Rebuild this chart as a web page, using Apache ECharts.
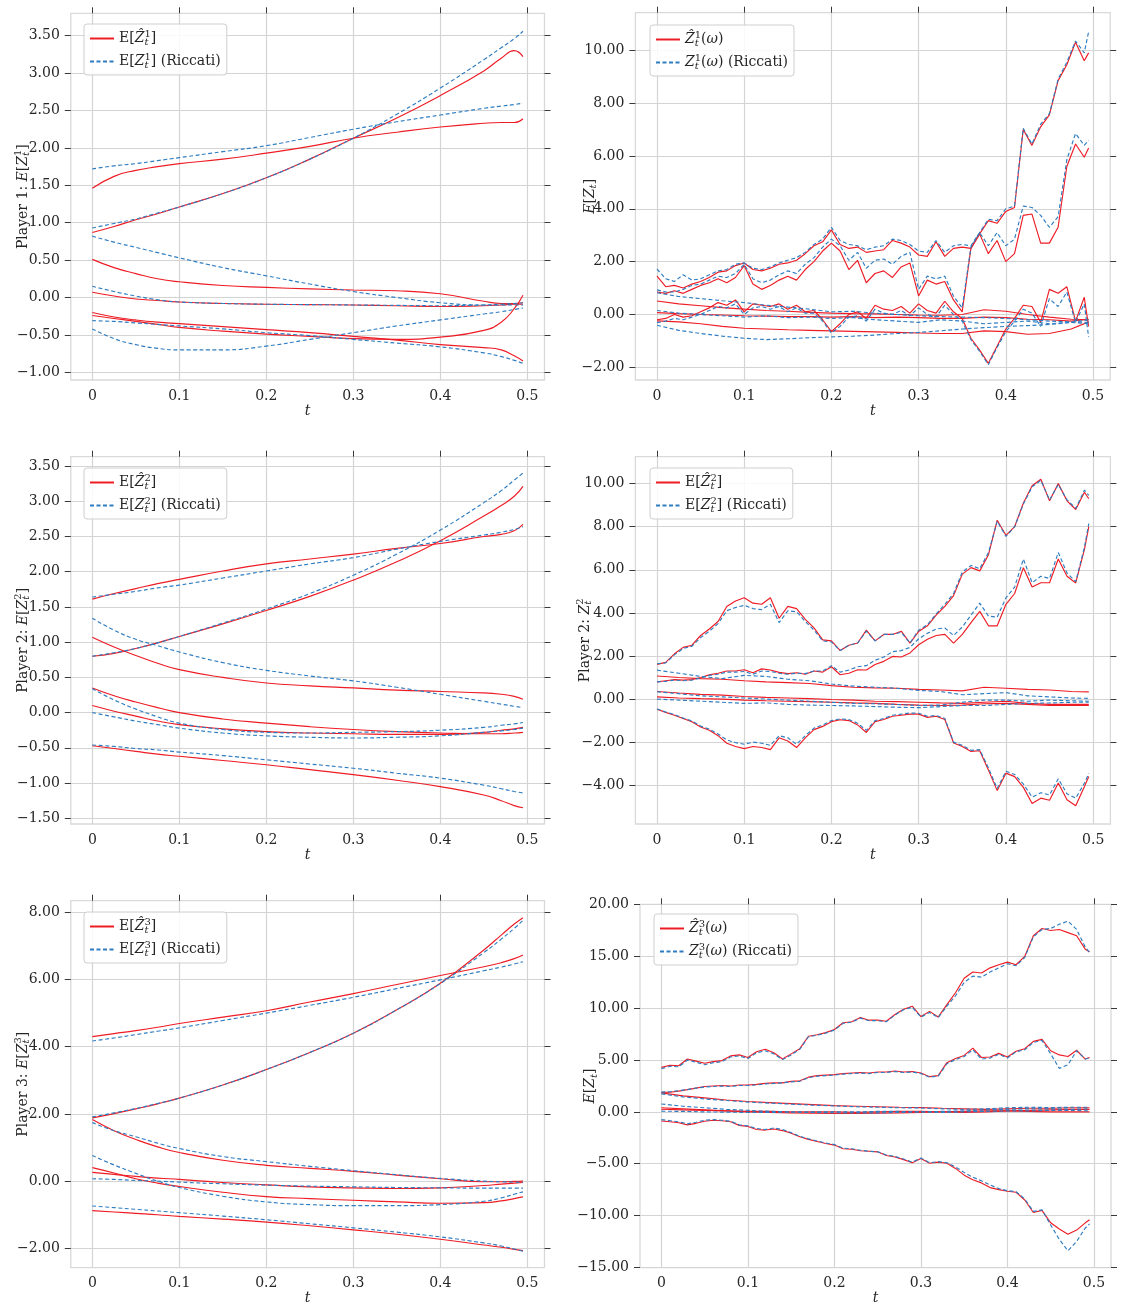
<!DOCTYPE html>
<html>
<head>
<meta charset="utf-8">
<script src="https://cdn.jsdelivr.net/npm/echarts@6/dist/echarts.min.js"></script>
<style>
  html, body { margin: 0; padding: 0; background: #ffffff; }
  #chart { width: 1121px; height: 1309px; }
</style>
</head>
<body>
<div id="chart"></div>
<script>
// ---------------------------------------------------------------------------
// Time grids
// ---------------------------------------------------------------------------
const T_MEAN = [0, 0.025, 0.05, 0.075, 0.1, 0.15, 0.2, 0.25, 0.3, 0.35, 0.4, 0.45, 0.47, 0.485, 0.495];
const T_PATH = [0, 0.01, 0.02, 0.03, 0.04, 0.05, 0.06, 0.07, 0.08, 0.09,
                0.1, 0.11, 0.12, 0.13, 0.14, 0.15, 0.16, 0.17, 0.18, 0.19,
                0.2, 0.21, 0.22, 0.23, 0.24, 0.25, 0.26, 0.27, 0.28, 0.29,
                0.3, 0.31, 0.32, 0.33, 0.34, 0.35, 0.36, 0.37, 0.38, 0.39,
                0.4, 0.41, 0.42, 0.43, 0.44, 0.45, 0.46, 0.47, 0.48, 0.49, 0.495];
const T_SLOW = [0, 0.025, 0.05, 0.075, 0.1, 0.125, 0.15, 0.175, 0.2, 0.225, 0.25,
                0.275, 0.3, 0.325, 0.35, 0.375, 0.4, 0.425, 0.45, 0.475, 0.495];

// Axis ticks
const X_TICKS = [0, 0.1, 0.2, 0.3, 0.4, 0.5];
const Y_TICKS_P1_MEAN = [-1, -0.5, 0, 0.5, 1, 1.5, 2, 2.5, 3, 3.5];
const Y_TICKS_P1_PATH = [-2, 0, 2, 4, 6, 8, 10];
const Y_TICKS_P2_MEAN = [-1.5, -1, -0.5, 0, 0.5, 1, 1.5, 2, 2.5, 3, 3.5];
const Y_TICKS_P2_PATH = [-4, -2, 0, 2, 4, 6, 8, 10];
const Y_TICKS_P3_MEAN = [-2, 0, 2, 4, 6, 8];
const Y_TICKS_P3_PATH = [-15, -10, -5, 0, 5, 10, 15, 20];

// ---------------------------------------------------------------------------
// Player 1 - expected values (six components), learned vs Riccati
// ---------------------------------------------------------------------------
const meanP1Hat = [
  [1.46, 1.62, 1.70, 1.75, 1.79, 1.85, 1.93, 2.02, 2.13, 2.21, 2.28, 2.33, 2.34, 2.34, 2.39],
  [0.87, 0.95, 1.04, 1.12, 1.21, 1.39, 1.60, 1.85, 2.13, 2.40, 2.70, 3.03, 3.20, 3.30, 3.22],
  [0.51, 0.40, 0.32, 0.25, 0.21, 0.16, 0.135, 0.115, 0.10, 0.09, 0.05, -0.05, -0.08, -0.08, -0.07],
  [0.07, 0.02, -0.02, -0.04, -0.06, -0.08, -0.09, -0.095, -0.10, -0.11, -0.12, -0.11, -0.10, -0.09, -0.09],
  [-0.24, -0.28, -0.32, -0.36, -0.40, -0.45, -0.49, -0.52, -0.55, -0.56, -0.53, -0.44, -0.33, -0.15, 0.03],
  [-0.20, -0.26, -0.30, -0.33, -0.35, -0.39, -0.43, -0.47, -0.52, -0.57, -0.63, -0.67, -0.70, -0.78, -0.85]
];
const meanP1Ric = [
  [1.72, 1.76, 1.79, 1.83, 1.87, 1.95, 2.03, 2.14, 2.25, 2.35, 2.44, 2.53, 2.56, 2.58, 2.60],
  [0.93, 0.99, 1.05, 1.13, 1.21, 1.39, 1.60, 1.85, 2.13, 2.45, 2.80, 3.18, 3.34, 3.46, 3.56],
  [0.82, 0.74, 0.67, 0.60, 0.53, 0.40, 0.29, 0.18, 0.08, 0.00, -0.07, -0.10, -0.10, -0.10, -0.10],
  [0.15, 0.08, 0.02, -0.03, -0.06, -0.08, -0.09, -0.095, -0.10, -0.105, -0.11, -0.10, -0.09, -0.08, -0.07],
  [-0.42, -0.55, -0.63, -0.68, -0.70, -0.70, -0.65, -0.56, -0.47, -0.38, -0.30, -0.22, -0.19, -0.16, -0.14],
  [-0.31, -0.32, -0.34, -0.36, -0.38, -0.42, -0.47, -0.51, -0.56, -0.61, -0.66, -0.74, -0.79, -0.84, -0.88]
];

// Player 1 - one sample path
const pathP1HatA = [1.45,1.05,1.10,1.00,1.15,1.25,1.40,1.60,1.65,1.85, 1.95,1.70,1.65,1.75,1.90,1.95,2.05,2.30,2.60,2.75, 3.20,2.65,2.50,2.55,2.35,2.40,2.45,2.80,2.70,2.55, 2.25,2.20,2.75,2.20,2.50,2.55,2.50,3.05,3.55,3.45, 3.90,4.05,7.00,6.40,7.10,7.55,8.85,9.45,10.30,9.60, 9.90];
const pathP1RicA = [1.72,1.35,1.25,1.50,1.30,1.35,1.50,1.65,1.70,1.90, 1.95,1.75,1.70,1.80,1.95,2.05,2.15,2.35,2.65,2.85, 3.30,2.80,2.65,2.60,2.45,2.55,2.60,2.85,2.80,2.65, 2.40,2.35,2.80,2.35,2.60,2.65,2.60,3.10,3.60,3.55, 4.00,4.10,7.05,6.45,7.20,7.60,8.90,9.55,10.35,9.90, 10.70];
const pathP1HatB = [0.85,0.80,0.90,0.80,0.95,1.10,1.20,1.35,1.20,1.40, 1.85,1.15,0.95,1.10,1.30,1.45,1.30,1.70,2.00,2.40, 2.70,2.40,1.70,2.05,1.20,1.55,1.65,1.40,1.80,1.95, 0.70,1.30,1.15,1.25,0.55,0.10,2.50,3.05,2.30,2.80, 2.00,2.30,3.75,3.80,2.70,2.70,3.30,5.60,6.45,5.95, 6.30];
const pathP1RicB = [0.93,0.85,0.85,0.95,1.10,1.15,1.30,1.45,1.40,1.55, 1.90,1.35,1.20,1.30,1.50,1.65,1.55,1.90,2.15,2.55, 2.85,2.60,2.05,2.35,1.75,2.05,2.10,1.90,2.20,2.35, 0.95,1.45,1.35,1.45,0.70,0.25,2.55,3.10,2.60,3.10, 2.60,2.85,4.10,4.05,3.75,3.30,3.70,5.85,6.85,6.40, 6.60];
const pathP1HatC = [-0.20,-0.15,0.00,-0.10,-0.05,0.10,0.25,0.45,0.35,0.55, 0.10,0.40,0.35,0.30,0.40,0.20,0.35,0.10,0.15,-0.20, -0.65,-0.35,0.00,0.10,-0.15,0.35,0.20,0.15,0.30,0.05, 0.40,0.15,0.05,0.50,0.10,-0.15,-0.90,-1.35,-1.85,-1.20, -0.55,-0.15,0.35,0.30,-0.30,0.95,0.80,1.05,-0.25,0.65, -0.45];
const pathP1RicC = [-0.31,-0.25,-0.15,-0.20,-0.10,0.00,0.15,0.30,0.25,0.40, 0.00,0.25,0.30,0.20,0.30,0.10,0.25,0.05,0.05,-0.25, -0.70,-0.45,-0.10,-0.05,-0.25,0.20,0.05,0.00,0.15,-0.05, 0.25,0.00,-0.10,0.35,0.00,-0.25,-0.95,-1.40,-1.90,-1.25, -0.65,-0.25,0.20,0.05,-0.45,0.60,0.30,0.85,-0.30,0.40, -0.85];
const pathP1HatD = [0.51,0.40,0.33,0.26,0.20,0.15,0.12,0.08,0.05,0.03,0.02,0.00,-0.02,-0.03,0.00,0.18,0.12,0.00,-0.10,-0.18,-0.20];
const pathP1RicD = [0.82,0.68,0.60,0.52,0.45,0.35,0.28,0.20,0.10,0.12,0.05,0.00,-0.05,-0.08,-0.10,-0.12,-0.15,-0.20,-0.25,-0.28,-0.30];
const pathP1HatE = [0.07,0.03,0.00,-0.02,-0.05,-0.06,-0.08,-0.08,-0.10,-0.08,-0.12,-0.10,-0.12,-0.15,-0.15,-0.10,-0.12,-0.18,-0.20,-0.25,-0.18];
const pathP1RicE = [0.15,0.05,0.00,-0.05,-0.10,-0.05,-0.12,-0.10,-0.15,-0.12,-0.20,-0.25,-0.30,-0.20,-0.25,-0.35,-0.30,-0.25,-0.35,-0.30,-0.20];
const pathP1HatF = [-0.24,-0.28,-0.35,-0.45,-0.52,-0.55,-0.58,-0.60,-0.62,-0.64,-0.66,-0.68,-0.70,-0.72,-0.72,-0.62,-0.65,-0.75,-0.72,-0.55,-0.28];
const pathP1RicF = [-0.41,-0.60,-0.72,-0.82,-0.90,-0.95,-0.92,-0.88,-0.85,-0.82,-0.78,-0.72,-0.68,-0.62,-0.55,-0.50,-0.45,-0.42,-0.38,-0.30,-0.35];

// ---------------------------------------------------------------------------
// Player 2 - expected values
// ---------------------------------------------------------------------------
const meanP2Hat = [
  [1.61, 1.69, 1.76, 1.83, 1.89, 2.01, 2.11, 2.18, 2.25, 2.33, 2.40, 2.50, 2.53, 2.58, 2.67],
  [0.80, 0.84, 0.91, 0.99, 1.08, 1.26, 1.45, 1.65, 1.88, 2.14, 2.44, 2.79, 2.94, 3.07, 3.21],
  [1.07, 0.93, 0.81, 0.70, 0.61, 0.50, 0.42, 0.38, 0.35, 0.32, 0.30, 0.28, 0.26, 0.23, 0.19],
  [0.35, 0.24, 0.15, 0.07, 0.00, -0.09, -0.15, -0.20, -0.24, -0.27, -0.29, -0.30, -0.30, -0.29, -0.28],
  [0.10, 0.02, -0.05, -0.12, -0.17, -0.23, -0.27, -0.29, -0.30, -0.31, -0.31, -0.28, -0.25, -0.23, -0.21],
  [-0.47, -0.51, -0.55, -0.59, -0.62, -0.68, -0.74, -0.81, -0.88, -0.96, -1.05, -1.17, -1.25, -1.32, -1.35]
];
const meanP2Ric = [
  [1.64, 1.68, 1.72, 1.77, 1.81, 1.91, 2.01, 2.11, 2.20, 2.32, 2.43, 2.52, 2.56, 2.60, 2.64],
  [0.80, 0.85, 0.91, 0.99, 1.08, 1.27, 1.47, 1.69, 1.95, 2.25, 2.59, 2.98, 3.15, 3.30, 3.40],
  [1.34, 1.17, 1.04, 0.95, 0.86, 0.71, 0.60, 0.52, 0.45, 0.36, 0.26, 0.16, 0.12, 0.09, 0.07],
  [0.34, 0.18, 0.05, -0.06, -0.15, -0.24, -0.28, -0.29, -0.28, -0.27, -0.25, -0.21, -0.18, -0.16, -0.14],
  [0.00, -0.06, -0.12, -0.17, -0.22, -0.29, -0.33, -0.35, -0.36, -0.35, -0.33, -0.28, -0.26, -0.24, -0.22],
  [-0.46, -0.48, -0.51, -0.53, -0.56, -0.61, -0.67, -0.73, -0.79, -0.86, -0.93, -1.03, -1.08, -1.12, -1.14]
];

// Player 2 - one sample path
const pathP2HatA = [1.61,1.70,2.10,2.40,2.50,2.95,3.25,3.60,4.30,4.55, 4.70,4.45,4.40,4.70,3.75,4.30,4.20,3.70,3.30,2.75, 2.70,2.25,2.50,2.60,3.20,2.70,3.00,3.00,3.15,2.60, 3.14,3.40,3.90,4.30,4.80,5.80,6.10,5.95,6.70,8.30, 7.60,8.00,9.10,9.90,10.20,9.20,10.00,9.20,8.80,9.60, 9.30];
const pathP2RicA = [1.64,1.68,2.05,2.35,2.45,2.85,3.15,3.50,4.10,4.25, 4.35,4.20,4.15,4.40,3.55,4.10,4.05,3.60,3.20,2.70, 2.65,2.25,2.50,2.60,3.15,2.70,3.00,3.00,3.10,2.60, 3.20,3.45,3.95,4.40,4.90,5.90,6.20,6.05,6.80,8.25, 7.55,8.00,9.05,9.85,10.15,9.25,9.95,9.25,8.85,9.70, 9.45];
const pathP2HatB = [0.80,0.85,0.90,0.88,0.90,1.00,1.12,1.20,1.30,1.30, 1.36,1.22,1.40,1.35,1.24,1.18,1.22,1.15,1.30,1.25, 1.50,1.13,1.20,1.36,1.35,1.60,1.75,1.98,1.95,2.14, 2.52,2.78,2.95,3.00,2.60,3.00,3.55,4.07,3.40,3.40, 4.40,4.90,6.10,5.20,5.40,5.40,6.50,5.70,5.39,6.95, 8.00];
const pathP2RicB = [0.80,0.82,0.88,0.85,0.88,0.98,1.10,1.15,1.25,1.25, 1.28,1.15,1.30,1.28,1.20,1.15,1.20,1.18,1.30,1.30, 1.55,1.25,1.35,1.50,1.55,1.80,1.95,2.20,2.25,2.40, 2.80,3.05,3.25,3.30,2.95,3.35,3.90,4.45,3.85,3.80, 4.70,5.20,6.50,5.40,5.70,5.60,6.80,5.85,5.45,7.05, 8.15];
const pathP2HatF = [-0.47,-0.62,-0.75,-0.90,-1.05,-1.30,-1.45,-1.70,-2.05,-2.20, -2.30,-2.20,-2.25,-2.35,-1.80,-1.95,-2.25,-1.80,-1.42,-1.27, -1.05,-0.96,-1.00,-1.20,-1.55,-1.05,-0.95,-0.80,-0.75,-0.70, -0.70,-0.85,-0.80,-0.95,-2.04,-2.20,-2.43,-2.40,-3.30,-4.25, -3.44,-3.60,-4.10,-4.85,-4.60,-4.70,-3.90,-4.67,-4.95,-4.06, -3.60];
const pathP2RicF = [-0.46,-0.60,-0.72,-0.88,-1.02,-1.25,-1.40,-1.62,-1.90,-2.02, -2.10,-2.00,-2.05,-2.15,-1.70,-1.80,-2.10,-1.70,-1.35,-1.20, -1.00,-0.92,-0.95,-1.12,-1.45,-1.00,-0.90,-0.75,-0.70,-0.65, -0.66,-0.80,-0.76,-0.90,-2.00,-2.15,-2.38,-2.35,-3.20,-4.15, -3.35,-3.50,-3.95,-4.55,-4.35,-4.45,-3.70,-4.40,-4.60,-3.90, -3.45];
const pathP2HatC = [1.07,1.00,0.95,0.92,0.85,0.80,0.76,0.72,0.62,0.55,0.52,0.50,0.45,0.42,0.38,0.55,0.50,0.45,0.42,0.35,0.33];
const pathP2RicC = [1.34,1.20,1.05,0.95,1.10,1.05,0.92,0.85,0.70,0.60,0.55,0.50,0.40,0.35,0.20,0.25,0.30,0.15,0.10,0.05,0.03];
const pathP2HatD = [0.35,0.28,0.22,0.18,0.12,0.08,0.05,0.02,-0.02,-0.05,-0.10,-0.12,-0.15,-0.18,-0.20,-0.15,-0.10,-0.20,-0.25,-0.25,-0.25];
const pathP2RicD = [0.34,0.25,0.15,0.10,0.05,0.00,-0.05,-0.10,-0.15,-0.20,-0.22,-0.25,-0.30,-0.28,-0.15,-0.05,-0.05,-0.10,-0.05,-0.08,-0.10];
const pathP2HatE = [0.10,0.05,0.02,0.00,-0.05,-0.08,-0.10,-0.12,-0.15,-0.18,-0.20,-0.25,-0.28,-0.30,-0.28,-0.22,-0.20,-0.25,-0.30,-0.30,-0.30];
const pathP2RicE = [0.00,-0.05,-0.10,-0.15,-0.20,-0.18,-0.25,-0.28,-0.30,-0.32,-0.35,-0.38,-0.40,-0.35,-0.30,-0.30,-0.25,-0.20,-0.18,-0.15,-0.15];

// ---------------------------------------------------------------------------
// Player 3 - expected values
// ---------------------------------------------------------------------------
const meanP3Hat = [
  [4.30, 4.39, 4.48, 4.58, 4.69, 4.88, 5.07, 5.33, 5.58, 5.85, 6.12, 6.38, 6.50, 6.62, 6.73],
  [1.88, 2.01, 2.15, 2.30, 2.47, 2.86, 3.32, 3.83, 4.40, 5.10, 5.89, 6.88, 7.32, 7.65, 7.84],
  [1.83, 1.50, 1.24, 1.02, 0.85, 0.62, 0.47, 0.38, 0.29, 0.18, 0.07, -0.02, -0.02, -0.01, 0.00],
  [0.40, 0.24, 0.07, -0.06, -0.16, -0.33, -0.46, -0.52, -0.57, -0.62, -0.66, -0.64, -0.59, -0.52, -0.47],
  [0.26, 0.20, 0.14, 0.09, 0.05, -0.04, -0.11, -0.17, -0.20, -0.22, -0.20, -0.13, -0.09, -0.06, -0.04],
  [-0.88, -0.92, -0.96, -1.00, -1.05, -1.13, -1.22, -1.33, -1.45, -1.58, -1.73, -1.90, -1.97, -2.03, -2.07]
];
const meanP3Ric = [
  [4.17, 4.26, 4.36, 4.46, 4.56, 4.78, 5.00, 5.23, 5.47, 5.73, 5.99, 6.26, 6.37, 6.46, 6.53],
  [1.91, 2.03, 2.16, 2.31, 2.47, 2.86, 3.32, 3.83, 4.40, 5.10, 5.88, 6.80, 7.20, 7.52, 7.76],
  [1.74, 1.50, 1.32, 1.13, 0.97, 0.73, 0.58, 0.44, 0.31, 0.19, 0.08, 0.00, -0.02, -0.03, -0.04],
  [0.76, 0.48, 0.23, 0.00, -0.19, -0.45, -0.62, -0.70, -0.73, -0.73, -0.70, -0.60, -0.50, -0.39, -0.32],
  [0.07, 0.05, 0.02, 0.00, -0.03, -0.08, -0.12, -0.15, -0.17, -0.19, -0.20, -0.21, -0.21, -0.21, -0.21],
  [-0.74, -0.79, -0.84, -0.89, -0.94, -1.04, -1.15, -1.27, -1.39, -1.52, -1.66, -1.84, -1.93, -2.02, -2.09]
];

// Player 3 - one sample path
const pathP3HatA = [4.30,4.50,4.45,5.10,4.90,4.70,4.85,4.95,5.40,5.50, 5.25,5.80,6.05,5.70,5.10,5.60,6.10,7.30,7.45,7.65, 7.95,8.60,8.70,9.10,8.85,8.85,8.75,9.40,9.90,10.20, 9.20,9.70,9.15,10.35,11.50,12.90,13.50,13.40,13.90,14.20, 14.45,14.20,15.00,17.00,17.70,17.50,17.60,17.30,17.00,15.70, 15.45];
const pathP3RicA = [4.17,4.40,4.35,5.00,4.80,4.55,4.75,4.85,5.30,5.40, 5.15,5.70,5.90,5.60,5.05,5.50,6.05,7.25,7.40,7.60, 7.90,8.55,8.65,9.05,8.80,8.80,8.70,9.35,9.85,10.10, 9.15,9.60,9.10,10.20,11.20,12.50,13.10,13.00,13.50,13.90, 14.30,14.10,14.90,16.90,17.60,17.70,18.10,18.40,17.60,15.90, 15.35];
const pathP3HatB = [1.88,1.90,2.00,2.15,2.30,2.45,2.50,2.55,2.50,2.60, 2.60,2.65,2.75,2.80,2.80,2.95,3.00,3.35,3.50,3.55, 3.60,3.70,3.75,3.80,3.75,3.85,3.85,3.95,3.85,3.90, 3.75,3.40,3.50,4.75,5.15,5.45,6.15,5.25,5.30,5.65, 5.30,5.85,6.10,6.80,7.00,5.90,5.50,5.35,5.95,5.10, 5.25];
const pathP3RicB = [1.91,1.95,2.05,2.15,2.30,2.40,2.45,2.50,2.45,2.55, 2.55,2.60,2.70,2.75,2.80,2.90,2.95,3.30,3.45,3.50, 3.55,3.65,3.70,3.75,3.70,3.80,3.80,3.90,3.80,3.85, 3.70,3.35,3.45,4.65,5.05,5.35,6.00,5.10,5.20,5.55, 5.20,5.80,6.00,6.70,6.90,5.60,4.20,4.55,5.90,5.10, 5.20];
const pathP3HatF = [-0.88,-0.95,-1.05,-1.25,-1.10,-0.90,-0.80,-0.85,-0.95,-1.30, -1.40,-1.70,-1.75,-1.65,-1.80,-2.05,-2.40,-2.65,-2.85,-3.05, -3.20,-3.55,-3.60,-3.75,-3.80,-3.85,-4.20,-4.35,-4.60,-4.90, -4.50,-4.95,-4.85,-4.95,-5.45,-6.10,-6.55,-6.85,-7.30,-7.50, -7.65,-7.75,-8.50,-9.70,-9.50,-10.70,-11.30,-11.80,-11.40,-10.70, -10.40];
const pathP3RicF = [-0.74,-0.85,-0.95,-1.15,-1.00,-0.80,-0.75,-0.80,-0.90,-1.25, -1.35,-1.60,-1.70,-1.55,-1.70,-2.00,-2.35,-2.60,-2.80,-3.00, -3.15,-3.50,-3.55,-3.70,-3.80,-3.85,-4.15,-4.30,-4.55,-4.85, -4.45,-4.90,-4.80,-4.90,-5.30,-5.85,-6.30,-6.65,-7.05,-7.40, -7.60,-7.70,-8.40,-9.60,-9.45,-10.90,-12.30,-13.40,-12.50,-11.20, -10.80];
const pathP3HatC = [1.83,1.55,1.35,1.15,1.00,0.90,0.80,0.70,0.60,0.55,0.50,0.45,0.42,0.35,0.30,0.25,0.30,0.35,0.35,0.40,0.40];
const pathP3RicC = [1.74,1.45,1.25,1.10,0.95,0.85,0.75,0.65,0.58,0.50,0.45,0.40,0.38,0.30,0.25,0.30,0.40,0.45,0.42,0.45,0.45];
const pathP3HatD = [0.40,0.30,0.20,0.10,0.00,-0.05,-0.10,-0.12,-0.15,-0.15,-0.12,-0.10,-0.05,0.00,0.05,0.10,0.10,0.05,0.00,0.00,0.00];
const pathP3RicD = [0.76,0.55,0.40,0.25,0.15,0.05,0.00,-0.05,-0.08,-0.10,-0.10,-0.05,0.00,0.05,0.10,0.20,0.25,0.30,0.30,0.25,0.30];
const pathP3HatE = [0.26,0.20,0.15,0.10,0.05,0.05,0.00,0.00,0.00,-0.05,0.00,0.05,0.05,0.00,-0.05,0.00,0.10,0.15,0.20,0.25,0.25];
const pathP3RicE = [0.07,0.05,0.00,-0.02,-0.05,-0.05,-0.02,0.00,0.02,0.00,0.05,0.05,0.00,-0.05,0.00,0.05,0.10,0.10,0.15,0.15,0.10];

// ---------------------------------------------------------------------------
// Text (rich-text markup for hats, super- and subscripts)
// ---------------------------------------------------------------------------
const FONT = "'DejaVu Serif', serif";
const INK = '#262626';
const RED = '#ee1c25';
const BLUE = '#2f7dc1';

// "sb" is drawn first and gives back its width so that the following
// superscript sits directly above it.
const RICH = {
  n:  { fontFamily: FONT, fontSize: 14, color: INK },
  i:  { fontFamily: FONT, fontSize: 14, fontStyle: 'italic', color: INK },
  sp: { fontFamily: FONT, fontSize: 10, color: INK, padding: [0, 0, 9, 0] },
  sb: { fontFamily: FONT, fontSize: 10, fontStyle: 'italic', color: INK, padding: [7, -4, 0, 0] },
  st: { fontFamily: FONT, fontSize: 10, fontStyle: 'italic', color: INK, padding: [7, 0, 0, 0] }
};

const LEGEND_TEXT = {
  hat1:  '{n|E[}{i|Ẑ}{sb|t}{sp|1}{n|]}',
  ric1:  '{n|E[}{i|Z}{sb|t}{sp|1}{n|] (Riccati)}',
  hatw1: '{i|Ẑ}{sb|t}{sp|1}{n|(}{i|ω}{n|)}',
  ricw1: '{i|Z}{sb|t}{sp|1}{n|(}{i|ω}{n|) (Riccati)}',
  hat2:  '{n|E[}{i|Ẑ}{sb|t}{sp|2}{n|]}',
  ric2:  '{n|E[}{i|Z}{sb|t}{sp|2}{n|] (Riccati)}',
  hatw2: '{n|E[}{i|Ẑ}{sb|t}{sp|2}{n|]}',
  ricw2: '{n|E[}{i|Z}{sb|t}{sp|2}{n|] (Riccati)}',
  hat3:  '{n|E[}{i|Ẑ}{sb|t}{sp|3}{n|]}',
  ric3:  '{n|E[}{i|Z}{sb|t}{sp|3}{n|] (Riccati)}',
  hatw3: '{i|Ẑ}{sb|t}{sp|3}{n|(}{i|ω}{n|)}',
  ricw3: '{i|Z}{sb|t}{sp|3}{n|(}{i|ω}{n|) (Riccati)}'
};

// ---------------------------------------------------------------------------
// Panels: content
// ---------------------------------------------------------------------------
function meanLines(rows) { return rows.map(r => [T_MEAN, r]); }

const PANELS = [
  { yRange: [-1.103, 3.80], yTicks: Y_TICKS_P1_MEAN,
    yName: '{n|Player 1: }{i|E}{n|[}{i|Z}{sb|t}{sp|1}{n|]}',
    names: ['hat1', 'ric1'], smooth: 0.5,
    hat: meanLines(meanP1Hat), ric: meanLines(meanP1Ric) },
  { yRange: [-2.48, 11.42], yTicks: Y_TICKS_P1_PATH,
    yName: '{i|E}{n|[}{i|Z}{st|t}{n|]}',
    names: ['hatw1', 'ricw1'], smooth: false,
    hat: [[T_PATH, pathP1HatA], [T_PATH, pathP1HatB], [T_SLOW, pathP1HatD], [T_SLOW, pathP1HatE], [T_PATH, pathP1HatC], [T_SLOW, pathP1HatF]],
    ric: [[T_PATH, pathP1RicA], [T_PATH, pathP1RicB], [T_SLOW, pathP1RicD], [T_SLOW, pathP1RicE], [T_PATH, pathP1RicC], [T_SLOW, pathP1RicF]] },
  { yRange: [-1.581, 3.632], yTicks: Y_TICKS_P2_MEAN,
    yName: '{n|Player 2: }{i|E}{n|[}{i|Z}{sb|t}{sp|2}{n|]}',
    names: ['hat2', 'ric2'], smooth: 0.5,
    hat: meanLines(meanP2Hat), ric: meanLines(meanP2Ric) },
  { yRange: [-5.80, 11.25], yTicks: Y_TICKS_P2_PATH,
    yName: '{n|Player 2: }{i|Z}{sb|t}{sp|2}',
    names: ['hatw2', 'ricw2'], smooth: false,
    hat: [[T_PATH, pathP2HatA], [T_PATH, pathP2HatB], [T_SLOW, pathP2HatC], [T_SLOW, pathP2HatD], [T_SLOW, pathP2HatE], [T_PATH, pathP2HatF]],
    ric: [[T_PATH, pathP2RicA], [T_PATH, pathP2RicB], [T_SLOW, pathP2RicC], [T_SLOW, pathP2RicD], [T_SLOW, pathP2RicE], [T_PATH, pathP2RicF]] },
  { yRange: [-2.577, 8.345], yTicks: Y_TICKS_P3_MEAN,
    yName: '{n|Player 3: }{i|E}{n|[}{i|Z}{sb|t}{sp|3}{n|]}',
    names: ['hat3', 'ric3'], smooth: 0.5,
    hat: meanLines(meanP3Hat), ric: meanLines(meanP3Ric) },
  { yRange: [-15.03, 20.03], yTicks: Y_TICKS_P3_PATH,
    yName: '{i|E}{n|[}{i|Z}{st|t}{n|]}',
    names: ['hatw3', 'ricw3'], smooth: false,
    hat: [[T_PATH, pathP3HatA], [T_PATH, pathP3HatB], [T_SLOW, pathP3HatC], [T_SLOW, pathP3HatD], [T_SLOW, pathP3HatE], [T_PATH, pathP3HatF]],
    ric: [[T_PATH, pathP3RicA], [T_PATH, pathP3RicB], [T_SLOW, pathP3RicC], [T_SLOW, pathP3RicD], [T_SLOW, pathP3RicE], [T_PATH, pathP3RicF]] }
];

// ---------------------------------------------------------------------------
// Panels: layout
// ---------------------------------------------------------------------------
const X_RANGE = [-0.02475, 0.51975];
const LAYOUT = [
  { grid: { left: 70.8, top: 13.3, width: 473.7, height: 366.7 }, legend: { left: 84, top: 24 }, yGap: 38 },
  { grid: { left: 635.4, top: 12.7, width: 474.8, height: 367.3 }, legend: { left: 650, top: 25 }, yGap: 37 },
  { grid: { left: 70.8, top: 456.7, width: 473.7, height: 367.3 }, legend: { left: 84, top: 468 }, yGap: 38 },
  { grid: { left: 635.4, top: 456.7, width: 475.0, height: 367.3 }, legend: { left: 650, top: 468 }, yGap: 41 },
  { grid: { left: 70.8, top: 900.7, width: 473.7, height: 367.0 }, legend: { left: 84, top: 912 }, yGap: 38 },
  { grid: { left: 640.0, top: 904.3, width: 471.0, height: 363.4 }, legend: { left: 654, top: 914 }, yGap: 41 }
];

const fmtY = v => (v < 0 ? '\u2212' : '') + Math.abs(v).toFixed(2);
const fmtX = v => (v === 0 ? '0' : v.toFixed(1));
const GRID_LINE = { color: '#d4d4d4', width: 1.2 };
const TICK_LINE = { color: '#3a3a3a', width: 1 };

const option = {
  backgroundColor: '#ffffff',
  animation: false,
  grid: [], xAxis: [], yAxis: [], legend: [], series: []
};

PANELS.forEach((p, gi) => {
  const L = LAYOUT[gi];
  option.grid.push(Object.assign({
    show: true, borderColor: '#d9d9d9', borderWidth: 1.3,
    containLabel: false, outerBoundsMode: 'none'
  }, L.grid));

  option.xAxis.push({
    gridIndex: gi, type: 'value', position: 'bottom', min: X_RANGE[0], max: X_RANGE[1],
    name: 't', nameLocation: 'middle', nameGap: 23,
    nameTextStyle: { fontFamily: FONT, fontStyle: 'italic', fontSize: 14, color: INK },
    axisLine: { show: false, onZero: false },
    axisTick: { show: false, customValues: X_TICKS },
    axisLabel: { customValues: X_TICKS, formatter: fmtX, margin: 9, fontFamily: FONT, fontSize: 14, color: INK },
    splitLine: { show: true, lineStyle: GRID_LINE }
  });
  option.xAxis.push({
    gridIndex: gi, type: 'value', position: 'top', min: X_RANGE[0], max: X_RANGE[1],
    axisLine: { show: false, onZero: false },
    axisTick: { show: true, inside: false, length: 6, customValues: X_TICKS, lineStyle: TICK_LINE },
    axisLabel: { show: false }, splitLine: { show: false }
  });

  option.yAxis.push({
    gridIndex: gi, type: 'value', position: 'left', min: p.yRange[0], max: p.yRange[1],
    name: p.yName, nameLocation: 'middle', nameGap: L.yGap, nameRotate: 90, nameMoveOverlap: false,
    nameTextStyle: { rich: RICH, fontFamily: FONT, fontSize: 14, color: INK },
    axisLine: { show: false, onZero: false },
    axisTick: { show: true, inside: false, length: 6, customValues: p.yTicks, lineStyle: TICK_LINE },
    axisLabel: { customValues: p.yTicks, formatter: fmtY, margin: 11, fontFamily: FONT, fontSize: 14, color: INK },
    splitLine: { show: true, lineStyle: GRID_LINE }
  });
  option.yAxis.push({
    gridIndex: gi, type: 'value', position: 'right', min: p.yRange[0], max: p.yRange[1],
    axisLine: { show: false, onZero: false },
    axisTick: { show: true, inside: false, length: 6, customValues: p.yTicks, lineStyle: TICK_LINE },
    axisLabel: { show: false }, splitLine: { show: false }
  });

  option.legend.push({
    data: p.names, orient: 'vertical', left: L.legend.left, top: L.legend.top,
    itemWidth: 24, itemHeight: 12, itemGap: 5, padding: [5, 6, 5, 5],
    borderColor: '#cfcfcf', borderWidth: 1, borderRadius: 3,
    backgroundColor: 'rgba(255,255,255,0.85)', selectedMode: false,
    itemStyle: { opacity: 0 },
    formatter: name => LEGEND_TEXT[name],
    textStyle: { rich: RICH, fontFamily: FONT, fontSize: 14, color: INK }
  });

  const addLine = (name, xs, ys, color, dashed) => {
    option.series.push({
      type: 'line', name, xAxisIndex: gi * 2, yAxisIndex: gi * 2,
      data: xs.map((x, k) => [x, ys[k]]),
      showSymbol: false, symbol: 'none', smooth: p.smooth, silent: true,
      lineStyle: { color, width: 1.15, type: dashed ? [4, 2.5] : 'solid' },
      itemStyle: { color }, z: dashed ? 3 : 2
    });
  };
  p.hat.forEach(([xs, ys]) => addLine(p.names[0], xs, ys, RED, false));
  p.ric.forEach(([xs, ys]) => addLine(p.names[1], xs, ys, BLUE, true));
});

const chart = echarts.init(document.getElementById('chart'), null, { renderer: 'canvas' });
chart.setOption(option);
</script>
</body>
</html>
